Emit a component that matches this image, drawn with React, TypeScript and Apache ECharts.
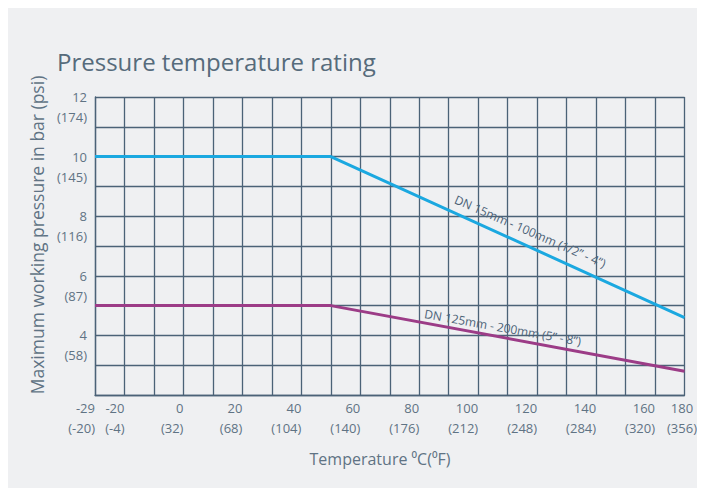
import React, { useEffect, useRef } from "react";
import * as echarts from "echarts";

const categories = ["-29", "-20", "-10", "0", "10", "20", "30", "40", "50", "60", "70", "80", "90", "100", "110", "120", "130", "140", "150", "160", "180"];
const xLabelC = ["-29", "-20", "0", "20", "40", "60", "80", "100", "120", "140", "160", "180"];
const xLabelF = ["-20", "-4", "32", "68", "104", "140", "176", "212", "248", "284", "320", "356"];
const yLabelBar = [4, 6, 8, 10, 12];
const yLabelPsi = ["58", "87", "116", "145", "174"];

const smallValves: [string, number][] = [["-29", 10], ["50", 10], ["180", 4.6]];
const largeValves: [string, number][] = [["-29", 5], ["50", 5], ["180", 2.8]];

const smallName = "DN 15mm - 100mm (1/2\u201D - 4\u201D)";
const largeName = "DN 125mm - 200mm (5\u201D - 8\u201D)";

const FONT = "'Open Sans', 'Noto Sans', sans-serif";
const TXT = "#5f7384";
const GRID = "#4b6277";

export default function App() {
  const ref = useRef<HTMLDivElement>(null);
  useEffect(() => {
    if (!ref.current) return;
    const chart = echarts.init(ref.current, undefined, { renderer: "svg" });
    const lastC = xLabelC[xLabelC.length - 1];
    chart.setOption({
      animation: false,
      backgroundColor: "#eff0f2",
      grid: { left: 87, top: 89, right: 14, bottom: 93, containLabel: false },
      xAxis: {
        type: "category",
        boundaryGap: false,
        data: categories.map((c) => (c === lastC ? { value: c, textStyle: { align: "center" } } : c)),
        axisLine: { show: true, lineStyle: { color: GRID, width: 1.3 } },
        axisTick: { show: false },
        splitLine: { show: true, interval: 0, lineStyle: { color: GRID, width: 1.3 } },
        axisLabel: {
          interval: 0,
          margin: 3,
          align: "right",
          verticalAlign: "top",
          lineHeight: 20,
          fontSize: 13,
          fontFamily: FONT,
          color: TXT,
          rich: {
            e: { padding: [0, 5, 0, 0], fontSize: 13, fontFamily: FONT, color: TXT, lineHeight: 20 },
          },
          formatter: (v: string) => {
            const i = xLabelC.indexOf(v);
            if (i < 0) return "";
            if (v === lastC) return `{e|${v}}\n{e|(${xLabelF[i]})}`;
            return `${v}\n(${xLabelF[i]})`;
          },
        },
      },
      yAxis: {
        type: "value",
        min: 2,
        max: 12,
        interval: 1,
        axisLine: { show: true, lineStyle: { color: GRID, width: 1.3 } },
        axisTick: { show: false },
        splitLine: { show: true, lineStyle: { color: GRID, width: 1.3 } },
        axisLabel: {
          margin: 8,
          align: "right",
          verticalAlign: "middle",
          lineHeight: 20,
          fontSize: 13,
          fontFamily: FONT,
          color: TXT,
          formatter: (v: number) => {
            const i = yLabelBar.indexOf(v);
            return i < 0 ? "" : ` \n${v}\n(${yLabelPsi[i]})`;
          },
        },
      },
      series: [
        {
          name: smallName,
          type: "line",
          data: smallValves,
          symbol: "none",
          lineStyle: { color: "#1ba8e0", width: 3 },
          z: 5,
        },
        {
          name: largeName,
          type: "line",
          data: largeValves,
          symbol: "none",
          lineStyle: { color: "#9c3c87", width: 3 },
          z: 5,
        },
      ],
    });

    const lineLabel = (data: [string, number][], text: string, t: number, off: number) => {
      const a = chart.convertToPixel({ xAxisIndex: 0, yAxisIndex: 0 }, data[1]) as number[];
      const b = chart.convertToPixel({ xAxisIndex: 0, yAxisIndex: 0 }, data[2]) as number[];
      const x = a[0] + (b[0] - a[0]) * t;
      const y = a[1] + (b[1] - a[1]) * t + off;
      const ang = Math.atan2(b[1] - a[1], b[0] - a[0]);
      return {
        type: "text",
        x,
        y,
        rotation: -ang * 0.96,
        z: 10,
        style: { text, fill: GRID, fontSize: 12, fontFamily: FONT, align: "center", verticalAlign: "middle" },
      };
    };

    chart.setOption({
      graphic: [
        {
          type: "text",
          x: 49,
          y: 53,
          style: { text: "Pressure temperature rating", fill: "#566b7b", fontSize: 24, fontFamily: FONT, align: "left", verticalAlign: "middle" },
        },
        {
          type: "text",
          x: 29,
          y: 227,
          rotation: Math.PI / 2,
          style: { text: "Maximum working pressure in bar (psi)", fill: TXT, fontSize: 17.5, fontFamily: FONT, align: "center", verticalAlign: "middle" },
        },
        {
          type: "text",
          x: 372,
          y: 451,
          style: { text: "Temperature \u2070C(\u2070F)", fill: TXT, fontSize: 16, fontFamily: FONT, align: "center", verticalAlign: "middle" },
        },
        lineLabel(smallValves, smallName, 0.564, -16),
        lineLabel(largeValves, largeName, 0.486, -10),
      ],
    });
    return () => chart.dispose();
  }, []);
  return <div ref={ref} style={{ width: 697, height: 480 }} />;
}
